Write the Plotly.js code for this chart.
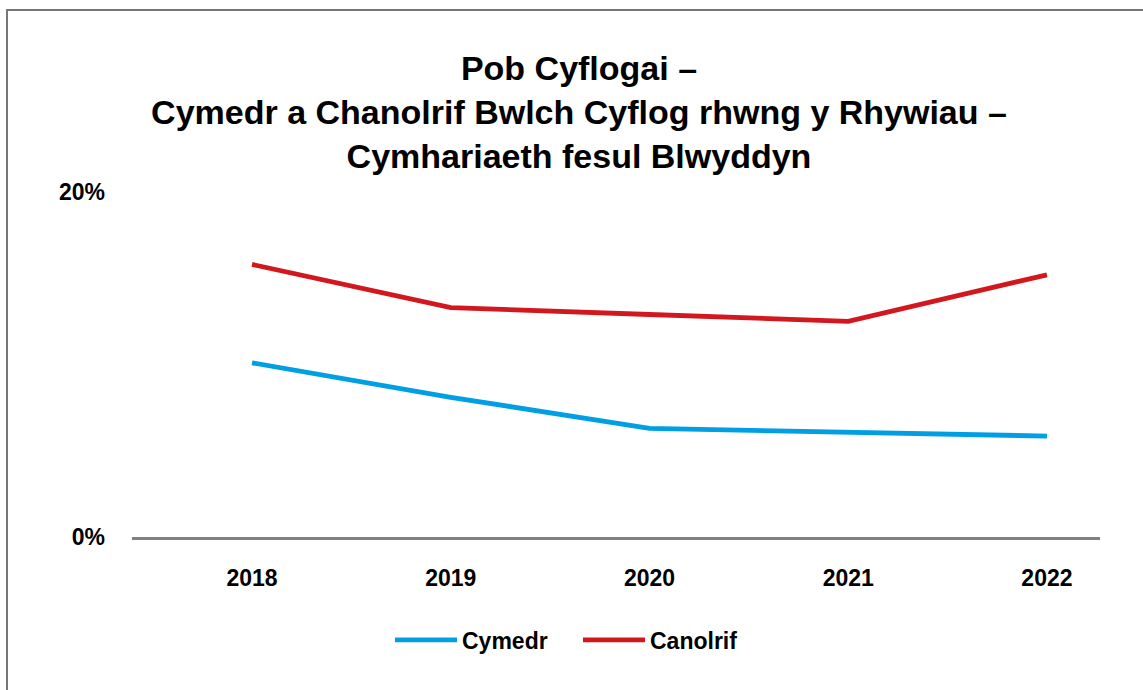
<!DOCTYPE html>
<html>
<head>
<meta charset="utf-8">
<script src="https://cdn.plot.ly/plotly-3.0.1.min.js"></script>
<style>
  html, body { margin: 0; padding: 0; background: #ffffff; }
  #frame { position: absolute; left: 6px; top: 9px; width: 1200px; height: 800px; border: 2px solid #767676; box-sizing: border-box; }
  #chart { position: absolute; left: 0; top: 0; width: 1143px; height: 690px; }
</style>
</head>
<body>
<div id="frame"></div>
<div id="chart"></div>
<script>
const years = ['2018', '2019', '2020', '2021', '2022'];
const cymedr = [10.1, 8.1, 6.3, 6.1, 5.85];
const canolrif = [15.8, 13.3, 12.9, 12.5, 15.2];
const yTickVals = [0, 20];
const yTickText = ['0%', '20%'];
const seriesNames = ['Cymedr', 'Canolrif'];
const titleText = 'Pob Cyflogai –<br>Cymedr a Chanolrif Bwlch Cyflog rhwng y Rhywiau –<br>Cymhariaeth fesul Blwyddyn';

const FONT = 'Liberation Sans, Arial, Helvetica, sans-serif';

const traces = [
  { x: years, y: cymedr, name: seriesNames[0], type: 'scatter', mode: 'lines',
    line: { color: '#009FE3', width: 4.8 }, hoverinfo: 'skip' },
  { x: years, y: canolrif, name: seriesNames[1], type: 'scatter', mode: 'lines',
    line: { color: '#D2171E', width: 4.8 }, hoverinfo: 'skip' }
];

const layout = {
  width: 1143, height: 690,
  paper_bgcolor: 'rgba(0,0,0,0)', plot_bgcolor: 'rgba(0,0,0,0)',
  margin: { l: 132, r: 43, t: 192, b: 153 },
  font: { family: FONT, color: '#000000' },
  title: {
    text: '<b>' + titleText.split('<br>').join('</b><br><b>') + '</b>',
    font: { family: FONT, size: 34, color: '#000000' },
    xref: 'container', x: 579 / 1143, xanchor: 'center',
    yref: 'container', y: 1 - 80 / 690, yanchor: 'top'
  },
  xaxis: {
    type: 'category', range: [-0.604, 4.267],
    showline: true, linecolor: '#808080', linewidth: 2.5,
    showgrid: false, zeroline: false, ticks: '',
    tickfont: { family: FONT, size: 23, color: '#000000', weight: 'bold' },
    ticklabelstandoff: 19, fixedrange: true
  },
  yaxis: {
    range: [0, 20], tickvals: yTickVals, ticktext: yTickText,
    showline: false, showgrid: false, zeroline: false, ticks: '',
    tickfont: { family: FONT, size: 23, color: '#000000', weight: 'bold' },
    ticklabelstandoff: 26, fixedrange: true
  },
  showlegend: true,
  legend: {
    orientation: 'h', xref: 'container', x: 390 / 1143, xanchor: 'left',
    yref: 'container', y: 1 - 640 / 690, yanchor: 'middle',
    font: { family: FONT, size: 23, color: '#000000', weight: 'bold' },
    itemwidth: 62,
    entrywidth: 111, entrywidthmode: 'pixels',
    bgcolor: 'rgba(0,0,0,0)'
  }
};

Plotly.newPlot('chart', traces, layout, { displayModeBar: false, staticPlot: true });
</script>
</body>
</html>
